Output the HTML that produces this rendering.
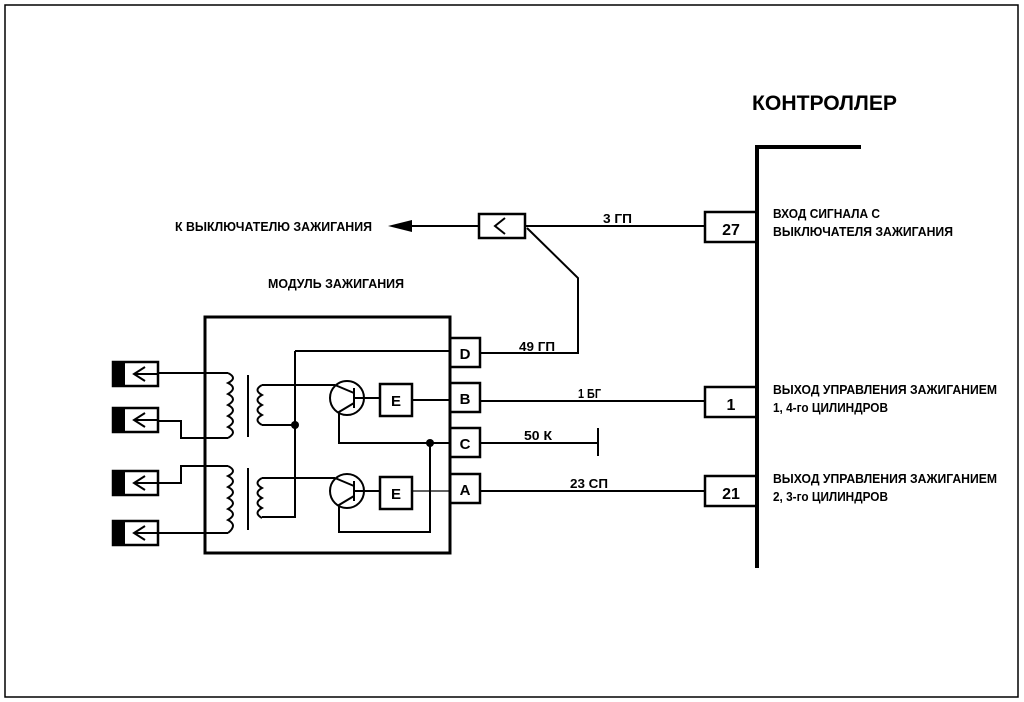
<!DOCTYPE html>
<html><head><meta charset="utf-8"><style>
body{margin:0;background:#fff}
svg{display:block}
text{font-family:"Liberation Sans","DejaVu Sans",sans-serif;font-weight:bold;fill:#000}
</style></head><body>
<svg width="1024" height="702" viewBox="0 0 1024 702" xmlns="http://www.w3.org/2000/svg">
<rect x="5" y="5" width="1013" height="692" fill="none" stroke="#000" stroke-width="1.5"/>
<g stroke="#000" fill="none">
<path d="M757 568 V147 H861" stroke-width="4"/>
<rect x="705" y="212" width="52" height="30" stroke-width="2.5"/>
<rect x="705" y="387" width="52" height="30" stroke-width="2.5"/>
<rect x="705" y="476" width="52" height="30" stroke-width="2.5"/>
<rect x="205" y="317" width="245" height="236" stroke-width="3"/>
<rect x="450" y="338" width="30" height="29" stroke-width="2.5"/>
<rect x="450" y="383" width="30" height="29" stroke-width="2.5"/>
<rect x="450" y="428" width="30" height="29" stroke-width="2.5"/>
<rect x="450" y="474" width="30" height="29" stroke-width="2.5"/>
<rect x="479" y="214" width="46" height="24" stroke-width="2.5"/>
<path d="M505 218 L495 226 L505 234" stroke-width="2"/>
<path d="M410 226 H479" stroke-width="2"/>
<path d="M525 226 H705" stroke-width="2"/>
<path d="M527 228 L578 278 V353 H480" stroke-width="2"/>
<path d="M480 401 H705" stroke-width="2"/>
<path d="M480 443 H598 M598 428 V456" stroke-width="2"/>
<path d="M480 491 H705" stroke-width="2"/>
<path d="M295 351 H450 M295 351 V517 H262" stroke-width="2"/>
<path d="M262 385 H335 M262 425 H295 M262 478 H335" stroke-width="2"/>
<path d="M228 373 H158 M228 438 H181 V421 H158 M228 466 H181 V483 H158 M228 533 H158" stroke-width="2"/>
<path d="M228 373 q10 5 0 10 q10 5 0 11 q10 5 0 11 q10 5 0 11 q10 5 0 11 q10 5 0 11" stroke-width="2"/>
<path d="M228 466 q10 5 0 10 q10 5 0 11 q10 5 0 11 q10 5 0 11 q10 5 0 11 q10 5 0 13" stroke-width="2"/>
<path d="M248 375 V437 M248 468 V530" stroke-width="2"/>
<path d="M262 385 q-9 5 0 10 q-9 5 0 10 q-9 5 0 10 q-9 5 0 10" stroke-width="2"/>
<path d="M262 478 q-9 5 0 10 q-9 5 0 10 q-9 5 0 10 q-9 5 0 10" stroke-width="2"/>
<circle cx="347" cy="398" r="17" stroke-width="2"/>
<circle cx="347" cy="491" r="17" stroke-width="2"/>
<path d="M354 388 V408 M354 398 H380 M335 385 L354 393 M354 403 L339 412 V443 H450" stroke-width="2"/>
<path d="M354 481 V501 M354 491 H380 M335 478 L354 486 M354 496 L339 505 V532 H430 V443" stroke-width="2"/>
<rect x="380" y="384" width="32" height="32" stroke-width="2.5"/>
<rect x="380" y="477" width="32" height="32" stroke-width="2.5"/>
<path d="M412 400 H450" stroke-width="2"/>
<path d="M412 491 H450" stroke-width="1.2"/>
<g stroke-width="2.5">
<rect x="113" y="362" width="45" height="24"/><rect x="113" y="408" width="45" height="24"/>
<rect x="113" y="471" width="45" height="24"/><rect x="113" y="521" width="45" height="24"/>
</g>
<g stroke-width="2">
<path d="M145 367 L134 374 L145 381 M134 374 H158"/>
<path d="M145 413 L134 420 L145 427 M134 420 H158"/>
<path d="M145 476 L134 483 L145 490 M134 483 H158"/>
<path d="M145 526 L134 533 L145 540 M134 533 H158"/>
</g>
</g>
<g fill="#000">
<rect x="113" y="362" width="12" height="24"/><rect x="113" y="408" width="12" height="24"/>
<rect x="113" y="471" width="12" height="24"/><rect x="113" y="521" width="12" height="24"/>
<circle cx="295" cy="425" r="4"/><circle cx="430" cy="443" r="4"/>
<path d="M388 226 L412 220 L412 232 Z"/>
</g>
<text x="752" y="110" font-size="21" textLength="145" lengthAdjust="spacingAndGlyphs">КОНТРОЛЛЕР</text>
<text x="731" y="235" font-size="16" text-anchor="middle">27</text>
<text x="731" y="410" font-size="16" text-anchor="middle">1</text>
<text x="731" y="499" font-size="16" text-anchor="middle">21</text>
<text x="465" y="359" font-size="15" text-anchor="middle">D</text>
<text x="465" y="404" font-size="15" text-anchor="middle">B</text>
<text x="465" y="449" font-size="15" text-anchor="middle">C</text>
<text x="465" y="495" font-size="15" text-anchor="middle">A</text>
<text x="396" y="406" font-size="15" text-anchor="middle">E</text>
<text x="396" y="499" font-size="15" text-anchor="middle">E</text>
<g font-size="13">
<text x="175" y="231" textLength="197" lengthAdjust="spacingAndGlyphs">К ВЫКЛЮЧАТЕЛЮ ЗАЖИГАНИЯ</text>
<text x="268" y="288" textLength="136" lengthAdjust="spacingAndGlyphs">МОДУЛЬ ЗАЖИГАНИЯ</text>
<text x="603" y="223" textLength="29" lengthAdjust="spacingAndGlyphs">3 ГП</text>
<text x="519" y="351" textLength="36" lengthAdjust="spacingAndGlyphs">49 ГП</text>
<text x="578" y="398" textLength="23" lengthAdjust="spacingAndGlyphs">1 БГ</text>
<text x="524" y="440" textLength="28" lengthAdjust="spacingAndGlyphs">50 К</text>
<text x="570" y="488" textLength="38" lengthAdjust="spacingAndGlyphs">23 СП</text>
<text x="773" y="218" textLength="107" lengthAdjust="spacingAndGlyphs">ВХОД СИГНАЛА С</text>
<text x="773" y="236" textLength="180" lengthAdjust="spacingAndGlyphs">ВЫКЛЮЧАТЕЛЯ ЗАЖИГАНИЯ</text>
<text x="773" y="394" textLength="224" lengthAdjust="spacingAndGlyphs">ВЫХОД УПРАВЛЕНИЯ ЗАЖИГАНИЕМ</text>
<text x="773" y="412" textLength="115" lengthAdjust="spacingAndGlyphs">1, 4-го ЦИЛИНДРОВ</text>
<text x="773" y="483" textLength="224" lengthAdjust="spacingAndGlyphs">ВЫХОД УПРАВЛЕНИЯ ЗАЖИГАНИЕМ</text>
<text x="773" y="501" textLength="115" lengthAdjust="spacingAndGlyphs">2, 3-го ЦИЛИНДРОВ</text>
</g>
</svg>
</body></html>
